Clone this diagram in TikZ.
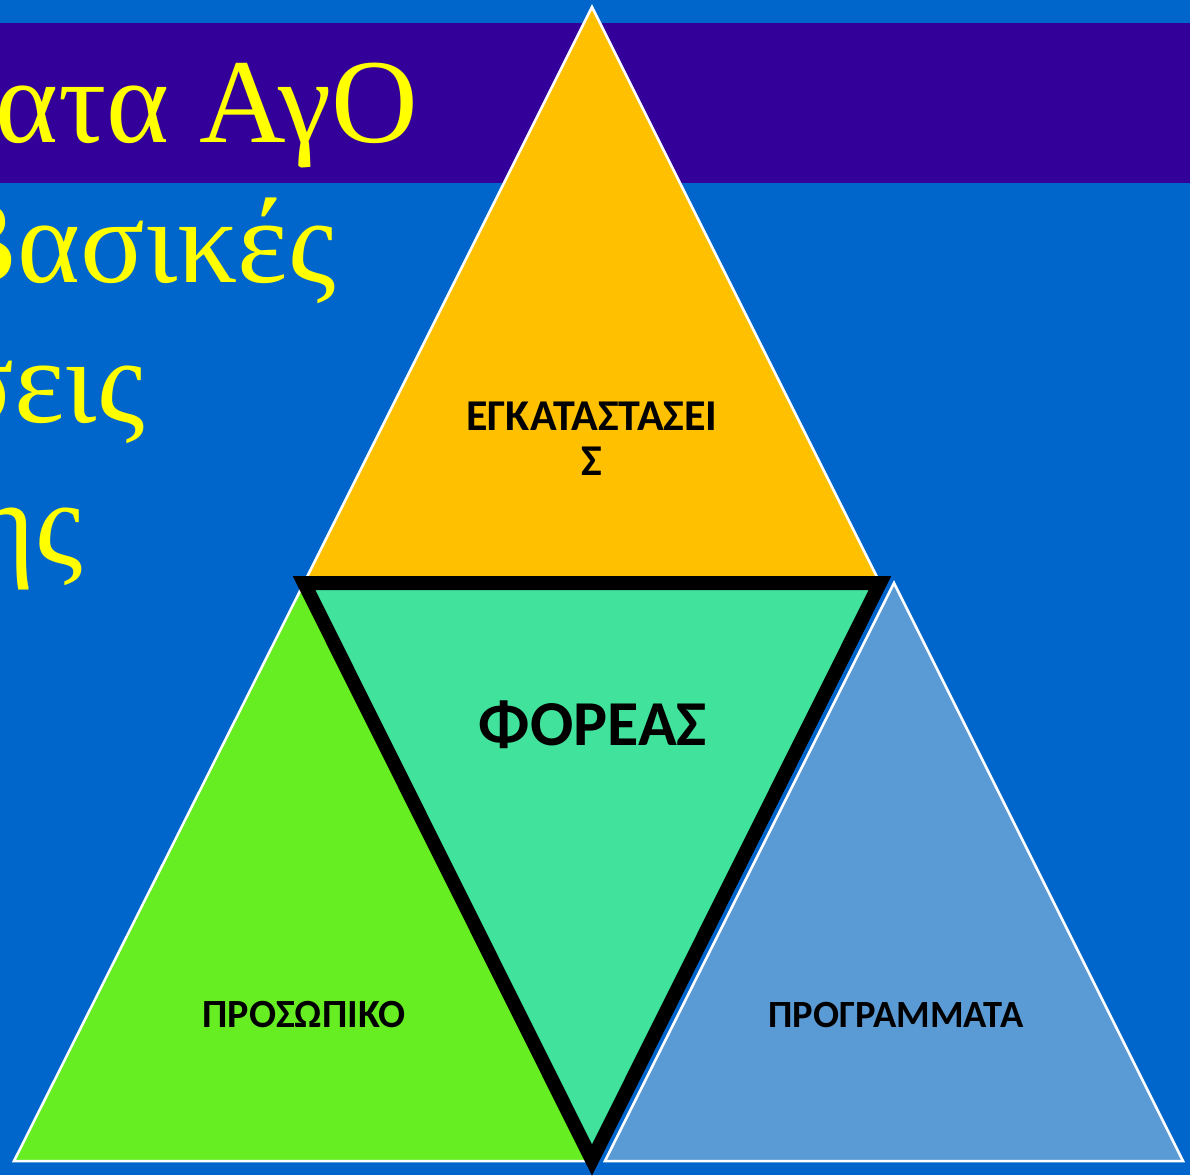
\documentclass[tikz,border=0pt]{standalone}
\usepackage{fontspec}
\setmainfont{Liberation Serif}
\newfontfamily\lblfont{Carlito}
\definecolor{bgblue}{HTML}{0066CC}
\definecolor{bandpurple}{HTML}{330099}
\definecolor{titleyellow}{HTML}{FFFF00}
\definecolor{triyellow}{HTML}{FFC000}
\definecolor{trigreen}{HTML}{66EE22}
\definecolor{trimint}{HTML}{41E29B}
\definecolor{trilblue}{HTML}{5B9BD5}
\tikzset{
  titletext/.style={anchor=base east, inner sep=0pt, text=titleyellow, font=\fontsize{120}{138}\selectfont},
  tri/.style={draw=white, line width=2.5pt, line join=miter},
  centertri/.style={draw=black, line width=14pt, line join=miter, fill=trimint},
  lbl/.style={anchor=base, inner sep=0pt, text=black, font=\lblfont\bfseries\fontsize{#1}{#1}\selectfont}
}
\begin{document}
\begin{tikzpicture}[x=1pt,y=-1pt]
\useasboundingbox (0,0) rectangle (1190,1175);
\clip (0,0) rectangle (1190,1175);
\fill[bgblue] (0,0) rectangle (1190,1175);
\fill[bandpurple] (0,23) rectangle (1190,183);

% title lines (cut off at the left edge)
\node[titletext] (t1) at (418,142) {ατα ΑγΟ};
\node[titletext] (t2) at (336,282) {Βασικές};
\node[titletext] (t3) at (145,422) {σεις};
\node[titletext] (t4) at (83,564) {ης};

% triangles
\filldraw[tri, fill=triyellow] (592,7) -- (304,583) -- (880,583) -- cycle;
\filldraw[tri, fill=trigreen] (304,583) -- (14,1161) -- (594,1161) -- cycle;
\filldraw[tri, fill=trilblue] (894,583) -- (605,1161) -- (1183,1161) -- cycle;
\filldraw[centertri] (304,583) -- (880,583) -- (592,1160) -- cycle;

% labels
\node[lbl=44] (l1) at (592,430) {ΕΓΚΑΤΑΣΤΑΣΕΙ};
\node[lbl=44] (l1b) at (592,475) {Σ};
\node[lbl=64] (l2) at (593,745) {ΦΟΡΕΑΣ};
\node[lbl=40] (l3) at (304,1027) {ΠΡΟΣΩΠΙΚΟ};
\node[lbl=38.5] (l4) at (896,1027) {ΠΡΟΓΡΑΜΜΑΤΑ};
\end{tikzpicture}
\end{document}
